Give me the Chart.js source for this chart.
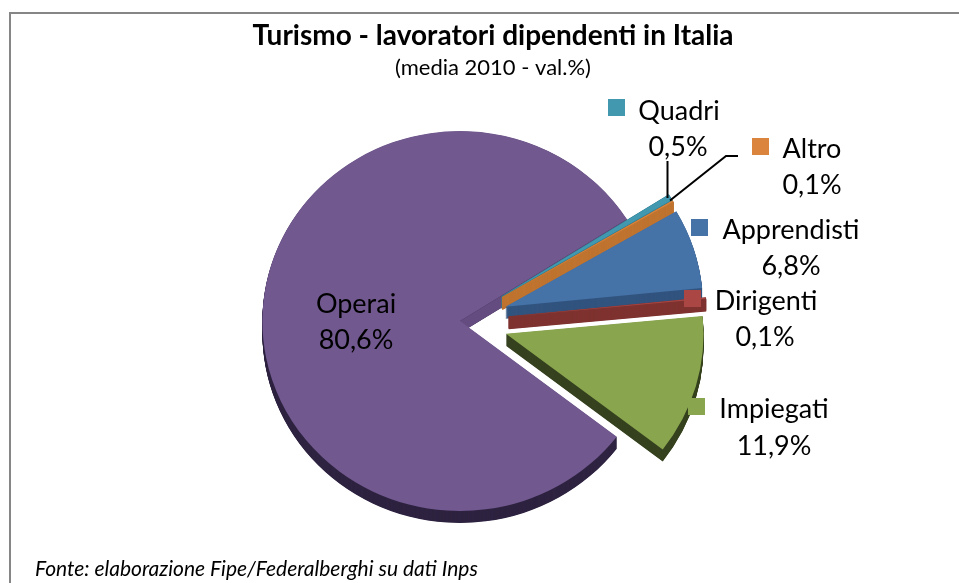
<!DOCTYPE html>
<html>
<head>
<meta charset="utf-8">
<style>html,body{margin:0;padding:0;background:#fff}#w{width:959px;height:583px;position:relative}canvas{display:block}</style>
<script src="https://cdn.jsdelivr.net/npm/chart.js@4"></script>
</head>
<body>
<div id="w"><canvas id="c" width="959" height="583"></canvas></div>
<script>
const categories = ['Operai', 'Quadri', 'Altro', 'Apprendisti', 'Dirigenti', 'Impiegati'];
const shares = [80.6, 0.5, 0.1, 6.8, 0.1, 11.9];
const faceColors = ['#71588f', '#4198af', '#db843d', '#4572a7', '#aa4643', '#89a54e'];
const wallColors = ['#2e2340', '#2f7a8f', '#bf7430', '#32547f', '#7f3330', '#36421f'];
const explode = [0, 47, 47, 46, 47, 46];
const titleText = 'Turismo - lavoratori dipendenti in Italia';
const subtitleText = '(media 2010 - val.%)';
const sourceText = 'Fonte: elaborazione Fipe/Federalberghi su dati Inps';

const FONT = 'Lato, Carlito, sans-serif';
const DEPTH = 12, STRETCH = 1.04;
// label layout: [name centre x, name centre y, value centre x, value centre y, key x, key y]
const labelLayout = [
  [356, 304, 356, 340, null, null],
  [679, 111, 678, 147, 608, 99],
  [812, 149, 812, 185, 752, 138],
  [791, 230, 791, 266, 691, 219],
  [766, 301, 765, 337, 684, 290],
  [774, 409, 774, 446, 688, 398]
];
const leaders = [
  [[667.5, 161], [667.5, 198]],
  [[738, 156], [726, 156], [670, 200.5]]
];

function slicePath(ctx, a) {
  ctx.beginPath();
  ctx.moveTo(a.x, a.y);
  ctx.arc(a.x, a.y, a.outerRadius, a.startAngle, a.endAngle);
  ctx.closePath();
}

const pie3d = {
  id: 'pie3d',
  afterDatasetUpdate(chart) {
    chart.getDatasetMeta(0).data.forEach((a, i) => {
      const mid = (a.startAngle + a.endAngle) / 2;
      a.x += Math.cos(mid) * explode[i];
      a.y += Math.sin(mid) * explode[i];
    });
  },
  beforeDatasetsDraw(chart) {
    const ctx = chart.ctx, arcs = chart.getDatasetMeta(0).data;
    const cx = arcs[0].x;
    ctx.save();
    ctx.translate(cx, 0); ctx.scale(STRETCH, 1); ctx.translate(-cx, 0);
    arcs.forEach((a, i) => {
      const thin = a.endAngle - a.startAngle < 0.1;
      ctx.fillStyle = wallColors[i];
      ctx.strokeStyle = wallColors[i];
      ctx.lineWidth = 1.5;
      for (let d = DEPTH; d >= 0.5; d -= 0.5) {
        ctx.save();
        ctx.translate(0, d);
        slicePath(ctx, a);
        ctx.fill();
        if (thin) ctx.stroke();
        ctx.restore();
      }
      if (i === 0) {
        const ex = a.x + Math.cos(a.endAngle) * a.outerRadius;
        const ey = a.y + Math.sin(a.endAngle) * a.outerRadius;
        ctx.fillStyle = '#644c80';
        ctx.beginPath();
        ctx.moveTo(a.x, a.y); ctx.lineTo(ex, ey);
        ctx.lineTo(ex, ey + DEPTH); ctx.lineTo(a.x, a.y + DEPTH);
        ctx.closePath(); ctx.fill();
      }
    });
  },
  afterDatasetsDraw(chart) {
    chart.ctx.restore();
  },
  afterDraw(chart) {
    const ctx = chart.ctx;
    ctx.save();
    // frame
    ctx.strokeStyle = '#868686'; ctx.lineWidth = 2;
    ctx.beginPath(); ctx.moveTo(10, 583); ctx.lineTo(10, 13); ctx.lineTo(959, 13); ctx.stroke();
    // leaders
    ctx.strokeStyle = '#000'; ctx.lineWidth = 2;
    leaders.forEach(l => {
      ctx.beginPath();
      l.forEach((p, i) => i ? ctx.lineTo(p[0], p[1]) : ctx.moveTo(p[0], p[1]));
      ctx.stroke();
    });
    // titles
    ctx.fillStyle = '#000'; ctx.textAlign = 'center'; ctx.textBaseline = 'middle';
    ctx.font = 'bold 28px ' + FONT;
    ctx.fillText(titleText, 493, 36);
    ctx.font = '22px ' + FONT;
    ctx.fillText(subtitleText, 493, 68);
    // labels
    ctx.font = '27px ' + FONT;
    categories.forEach((name, i) => {
      const L = labelLayout[i];
      if (L[4] !== null) {
        ctx.fillStyle = faceColors[i];
        ctx.fillRect(L[4], L[5], 17, 17);
      }
      ctx.fillStyle = '#000';
      ctx.fillText(name, L[0], L[1]);
      ctx.fillText(shares[i].toFixed(1).replace('.', ',') + '%', L[2], L[3]);
    });
    // source
    ctx.textAlign = 'left';
    ctx.font = 'italic 21px ' + FONT;
    ctx.fillText(sourceText, 35, 569);
    ctx.restore();
  }
};

new Chart(document.getElementById('c'), {
  type: 'pie',
  data: {
    labels: categories,
    datasets: [{
      data: shares,
      backgroundColor: faceColors,
      borderWidth: 0,
      hoverOffset: 0,
      clip: false
    }]
  },
  options: {
    responsive: false,
    animation: false,
    rotation: 127.5,
    layout: { padding: { top: 131, bottom: 72, left: 160, right: 199 } },
    plugins: { legend: { display: false }, title: { display: false }, tooltip: { enabled: false } },
    events: []
  },
  plugins: [pie3d]
});
</script>
</body>
</html>
